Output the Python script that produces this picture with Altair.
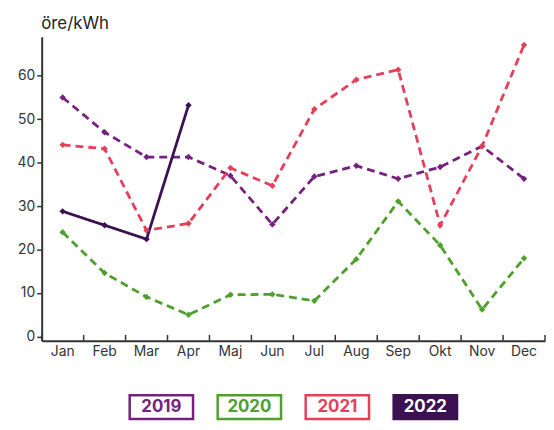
import altair as alt
import pandas as pd

months = ["Jan", "Feb", "Mar", "Apr", "Maj", "Jun", "Jul", "Aug", "Sep", "Okt", "Nov", "Dec"]
years = ["2019", "2020", "2021", "2022"]
y2019 = [55.0, 47.0, 41.3, 41.3, 37.0, 25.8, 36.8, 39.3, 36.3, 39.0, 43.8, 36.3]
y2020 = [24.0, 14.6, 9.1, 5.0, 9.6, 9.7, 8.2, 17.8, 31.1, 21.0, 6.2, 18.0]
y2021 = [44.1, 43.2, 24.4, 26.0, 38.8, 34.7, 52.3, 59.1, 61.4, 25.6, 43.8, 67.1]
y2022 = [28.8, 25.6, 22.4, 53.2]
colors = ["#76207F", "#4E9F2C", "#E4405A", "#3B1152"]
y_ticks = [0, 10, 20, 30, 40, 50, 60]

rows = []
for yr, vals in zip(years, [y2019, y2020, y2021, y2022]):
    for m, v in zip(months, vals):
        rows.append({"month": m, "year": yr, "value": v})
df = pd.DataFrame(rows)

FONT = "Inter"
W, H = 508, 307
Y_MIN, Y_MAX = -1, 69
TICK_TOP = 0.37  # inward x tick length, in data units

xscale = alt.Scale(domain=months, paddingInner=0, paddingOuter=0)
yscale = alt.Scale(domain=[Y_MIN, Y_MAX], nice=False, zero=False)
xaxis = alt.Axis(title=None, labelAngle=0, ticks=False, labelPadding=4,
                 labelFontSize=14, labelFont=FONT, labelColor="#333",
                 domainColor="#333", domainWidth=2, grid=False)
yaxis = alt.Axis(title="öre/kWh", titleAngle=0, titleAlign="left", titleBaseline="middle",
                 titleX=-1, titleY=-13, titleFont=FONT, titleFontSize=17,
                 titleFontWeight="normal", titleColor="#222",
                 values=y_ticks, labelFontSize=14, labelFont=FONT,
                 labelColor="#333", labelPadding=2, tickSize=5, tickColor="#333",
                 tickWidth=1.5, domainColor="#333", domainWidth=2, grid=False)
X = alt.X("month:N", sort=months, scale=xscale, axis=xaxis)
Y = alt.Y("value:Q", scale=yscale, axis=yaxis)
col = alt.Color("year:N", scale=alt.Scale(domain=years, range=colors), legend=None)
dash = alt.StrokeDash("year:N", scale=alt.Scale(domain=years, range=[[8, 5], [8, 5], [8, 5], [1, 0]]), legend=None)
sw = alt.StrokeWidth("year:N", scale=alt.Scale(domain=years, range=[2.8, 2.8, 2.8, 2.3]), legend=None)

lines = alt.Chart(df).mark_line().encode(x=X, y=Y, color=col, strokeDash=dash, strokeWidth=sw)
points = alt.Chart(df).mark_point(shape="diamond", filled=True, size=42, opacity=1).encode(
    x=X, y=Y, color=col)

tick_df = pd.DataFrame({"month": months})
ticks_start = alt.Chart(tick_df).mark_rule(color="#333", strokeWidth=1.5).encode(
    x=alt.X("month:N", sort=months, scale=xscale, axis=xaxis, bandPosition=0),
    y=alt.Y(datum=Y_MIN, scale=yscale, axis=yaxis), y2=alt.Y2(datum=TICK_TOP))
ticks_end = alt.Chart(pd.DataFrame({"month": months[-1:]})).mark_rule(color="#333", strokeWidth=1.5).encode(
    x=alt.X("month:N", sort=months, scale=xscale, axis=xaxis, bandPosition=1),
    y=alt.Y(datum=Y_MIN, scale=yscale, axis=yaxis), y2=alt.Y2(datum=TICK_TOP))

main = alt.layer(ticks_start, ticks_end, lines, points).properties(width=W, height=H)

leg_df = pd.DataFrame({"year": years})
lx = alt.X("year:N", sort=years, axis=None,
           scale=alt.Scale(domain=years, paddingInner=0.28, paddingOuter=1))
rect = alt.Chart(leg_df).mark_rect(strokeWidth=2.5).encode(
    x=lx,
    fill=alt.Fill("year:N", scale=alt.Scale(domain=years, range=["white", "white", "white", colors[3]]), legend=None),
    stroke=alt.Stroke("year:N", scale=alt.Scale(domain=years, range=colors), legend=None),
    strokeDash=alt.StrokeDash("year:N", scale=alt.Scale(domain=years, range=[[6, 4], [6, 4], [6, 4], [1, 0]]), legend=None),
)
txt = alt.Chart(leg_df).mark_text(font=FONT, fontSize=17, fontWeight="bold", baseline="middle").encode(
    x=lx,
    text="year:N",
    color=alt.Color("year:N", scale=alt.Scale(domain=years, range=colors[:3] + ["white"]), legend=None),
)
legend = alt.layer(rect, txt).properties(width=W, height=24)

chart = alt.vconcat(main, legend, spacing=35).resolve_scale(
    color="independent", strokeDash="independent", strokeWidth="independent",
    fill="independent", stroke="independent", x="independent"
).properties(padding={"left": 9, "top": 5, "right": 0, "bottom": 0}).configure_view(stroke=None)

chart.save("out.html", embed_options={"renderer": "svg", "actions": False})
